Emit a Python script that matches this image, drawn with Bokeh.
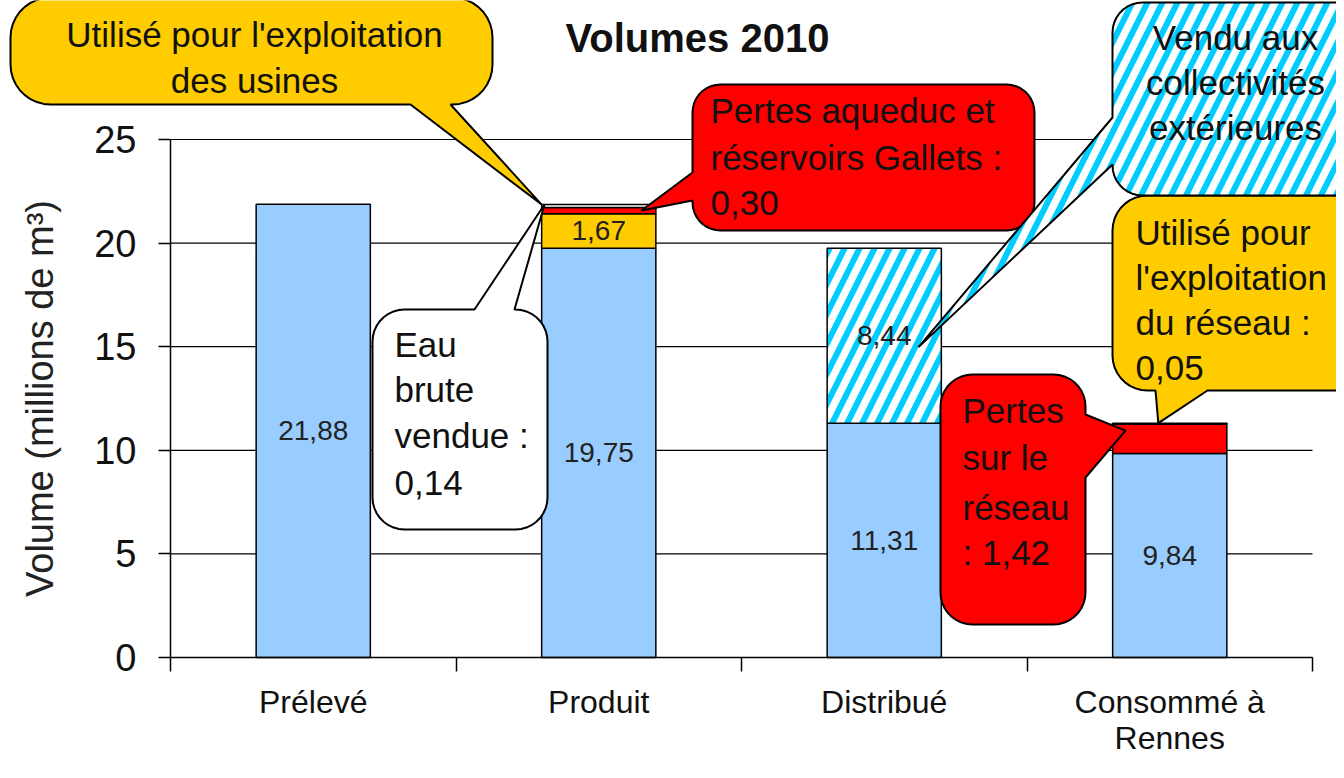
import numpy as np
from bokeh.plotting import figure
from bokeh.models import ColumnDataSource, FixedTicker, Range1d, PolyAnnotation, Label
from bokeh.core.properties import value
from bokeh.embed import file_html
from bokeh.resources import INLINE

# ---------------- data ----------------
categories = ["Prélevé", "Produit", "Distribué", "Consommé à\nRennes"]
bleu = [21.88, 19.75, 11.31, 9.84]            # volume principal
usines = [0, 1.67, 0, 0]                      # utilisé pour l'exploitation des usines
pertes_aqueduc = [0, 0.30, 0, 0]              # pertes aqueduc et réservoirs Gallets
eau_brute = [0, 0.14, 0, 0]                   # eau brute vendue
vendu_ext = [0, 0, 8.44, 0]                   # vendu aux collectivités extérieures
pertes_reseau = [0, 0, 0, 1.42]               # pertes sur le réseau
exploit_reseau = [0, 0, 0, 0.05]              # utilisé pour l'exploitation du réseau
y_ticks = [0, 5, 10, 15, 20, 25]
title_text = "Volumes 2010"
y_label = "Volume (millions de m³)"

BLUE, YELLOW, RED, CYAN = "#99CCFF", "#FFCC00", "#FF0000", "#00CCFF"
FONT = "Liberation Sans"
HATCH = dict(hatch_color=CYAN, hatch_weight=6, hatch_scale=30)

series = [
    (bleu, BLUE, " ", True),
    (usines, YELLOW, " ", True),
    (pertes_aqueduc, RED, " ", False),
    (eau_brute, "white", " ", False),
    (vendu_ext, "white", "/", True),
    (pertes_reseau, RED, " ", False),
    (exploit_reseau, YELLOW, " ", False),
]

centers = [i + 0.5 for i in range(len(categories))]
BAR_W = 0.4

seg = dict(x=[], bottom=[], top=[], fill=[], hatch=[])
lab = dict(x=[], y=[], text=[])
base = [0.0] * len(categories)
for vals, col, hat, show in series:
    for i, v in enumerate(vals):
        if v <= 0:
            continue
        seg["x"].append(centers[i])
        seg["bottom"].append(base[i])
        seg["top"].append(base[i] + v)
        seg["fill"].append(col)
        seg["hatch"].append(hat)
        if show:
            lab["x"].append(centers[i])
            lab["y"].append(base[i] + v / 2)
            lab["text"].append(f"{v:.2f}".replace(".", ","))
        base[i] += v
totals = base

# ---------------- layout helpers (image pixel <-> data) ----------------
X0_PX, PX_X = 178.0, 285.5
Y0_PX, PX_Y = 665.0, 20.72
W, H = 1336, 762
X_START = -(X0_PX - 8) / PX_X
X_END = X_START + W / PX_X
Y_END = (Y0_PX - 8) / PX_Y
Y_START = Y_END - H / PX_Y


def to_data(ix, iy):
    return (ix - X0_PX) / PX_X, (Y0_PX - iy) / PX_Y


def to_img(x, y):
    return X0_PX + x * PX_X, Y0_PX - y * PX_Y


p = figure(width=W, height=H, x_range=Range1d(X_START, X_END), y_range=Range1d(Y_START, Y_END),
           output_backend="svg", toolbar_location=None,
           min_border_left=0, min_border_right=0, min_border_top=0, min_border_bottom=0)
p.outline_line_color = None
p.background_fill_color = "white"
p.border_fill_color = "white"
p.xgrid.visible = False
p.ygrid.visible = False

# horizontal grid lines across the plotting area only
p.segment(x0=0, x1=len(categories), y0=y_ticks, y1=y_ticks, line_color="black", line_width=1.2)

# bars
src = ColumnDataSource(seg)
p.vbar(x="x", bottom="bottom", top="top", width=BAR_W, source=src,
       fill_color="fill", hatch_pattern="hatch", line_color="black", line_width=1.5, **HATCH)

p.text(x="x", y="y", text="text", source=ColumnDataSource(lab),
       text_font=value(FONT), text_font_size="28px", text_color="#222222",
       text_align="center", text_baseline="middle")

# axes (fixed at the data origin)
ya = p.yaxis[0]
ya.fixed_location = 0
ya.ticker = FixedTicker(ticks=y_ticks)
ya.bounds = (0, 25)
ya.major_tick_out = 12
ya.major_tick_in = 0
ya.minor_tick_out = 0
ya.minor_tick_in = 0
ya.axis_line_width = 1.5
ya.major_tick_line_width = 1.5
ya.major_label_text_font = FONT
ya.major_label_text_font_size = "38px"
ya.major_label_text_color = "#111111"
ya.major_label_standoff = 22
ya.axis_label = y_label
ya.axis_label_text_font = FONT
ya.axis_label_text_font_size = "38px"
ya.axis_label_text_font_style = "normal"
ya.axis_label_text_color = "#222222"
ya.axis_label_standoff = 30

xa = p.xaxis[0]
xa.fixed_location = 0
xa.ticker = FixedTicker(ticks=centers, minor_ticks=list(range(len(categories) + 1)))
xa.bounds = (0, len(categories))
xa.major_label_overrides = {c: name for c, name in zip(centers, categories)}
xa.major_tick_out = 0
xa.major_tick_in = 0
xa.minor_tick_out = 14
xa.minor_tick_in = 0
xa.minor_tick_line_color = "black"
xa.minor_tick_line_width = 1.5
xa.axis_line_width = 1.5
xa.major_label_text_font = FONT
xa.major_label_text_font_size = "32px"
xa.major_label_text_color = "#111111"
xa.major_label_text_line_height = 1.0
xa.major_label_standoff = 12


# ---------------- callouts ----------------
def callout(box, r, side, b0, b1, tip, n=10):
    x0, y0, x1, y1 = box
    pts = []

    def arc(cx, cy, a0, a1):
        for t in np.linspace(a0, a1, n):
            pts.append((cx + r * np.cos(t), cy + r * np.sin(t)))

    arc(x0 + r, y0 + r, np.pi, 1.5 * np.pi)
    if side == "top":
        pts += [(b0, y0), tip, (b1, y0)]
    arc(x1 - r, y0 + r, 1.5 * np.pi, 2 * np.pi)
    if side == "right":
        pts += [(x1, b0), tip, (x1, b1)]
    arc(x1 - r, y1 - r, 0, 0.5 * np.pi)
    if side == "bottom":
        pts += [(b1, y1), tip, (b0, y1)]
    arc(x0 + r, y1 - r, 0.5 * np.pi, np.pi)
    if side == "left":
        pts += [(x0, b1), tip, (x0, b0)]
    d = [to_data(a, b) for a, b in pts]
    return [q[0] for q in d], [q[1] for q in d]


def add_callout(box, r, side, b0, b1, tip_data, fill, lines, tx, ty, align, hatch=None):
    tip = to_img(*tip_data)
    xs, ys = callout(box, r, side, b0, b1, tip)
    kw = dict(xs=xs, ys=ys, xs_units="data", ys_units="data", fill_color=fill,
              fill_alpha=1.0, line_color="black", line_width=2, line_alpha=1.0)
    if hatch:
        kw.update(hatch_pattern=hatch, **HATCH)
    p.add_layout(PolyAnnotation(**kw))
    for k, t in enumerate(lines):
        lx, ly = to_data(tx, ty[k])
        p.add_layout(Label(x=lx, y=ly, text=t, text_font=FONT, text_font_size="35px",
                           text_color="#111111", text_align=align, text_baseline="middle"))


c_prod, c_dist, c_cons = centers[1], centers[2], centers[3]
top_prod = totals[1]
red_prod_mid = bleu[1] + usines[1] + pertes_aqueduc[1] / 2

add_callout((18, 5, 500, 112), 40, "bottom", 418, 458, (c_prod - BAR_W / 2, top_prod), YELLOW,
            ["Utilisé pour l'exploitation", "des usines"], 262, [42, 88], "center")
add_callout((700, 92, 1042, 238), 28, "left", 180, 208, (c_prod + 0.15, red_prod_mid), RED,
            ["Pertes aqueduc et", "réservoirs Gallets :", "0,30"], 718, [118, 165, 210], "left")
add_callout((380, 317, 555, 537), 32, "top", 482, 522, (c_prod - BAR_W / 2 + 0.01, top_prod), "white",
            ["Eau", "brute", "vendue :", "0,14"], 402, [352, 397, 443, 490], "left")
add_callout((948, 382, 1093, 632), 32, "right", 422, 485,
            (c_cons - 0.155, bleu[3] + 0.78 * pertes_reseau[3]), RED,
            ["Pertes", "sur le", "réseau", ": 1,42"], 970, [418, 465, 515, 560], "left")
add_callout((1120, 203, 1390, 398), 35, "bottom", 1163, 1215, (c_cons - 0.04, totals[3]), YELLOW,
            ["Utilisé pour", "l'exploitation", "du réseau :", "0,05"], 1143, [240, 285, 330, 375], "left")
add_callout((1120, 10, 1390, 203), 30, "left", 125, 172,
            (c_dist + 0.12, bleu[2] + vendu_ext[2] / 2 - 0.55), "white",
            ["Vendu aux", "collectivités", "extérieures"], 1243, [45, 90, 135], "center", hatch="/")

# title
tx, ty = to_data(705, 45)
p.add_layout(Label(x=tx, y=ty, text=title_text, text_font=FONT, text_font_size="40px",
                   text_font_style="bold", text_color="#111111", text_align="center",
                   text_baseline="middle"))

open("out.html", "w").write(file_html(p, INLINE))
